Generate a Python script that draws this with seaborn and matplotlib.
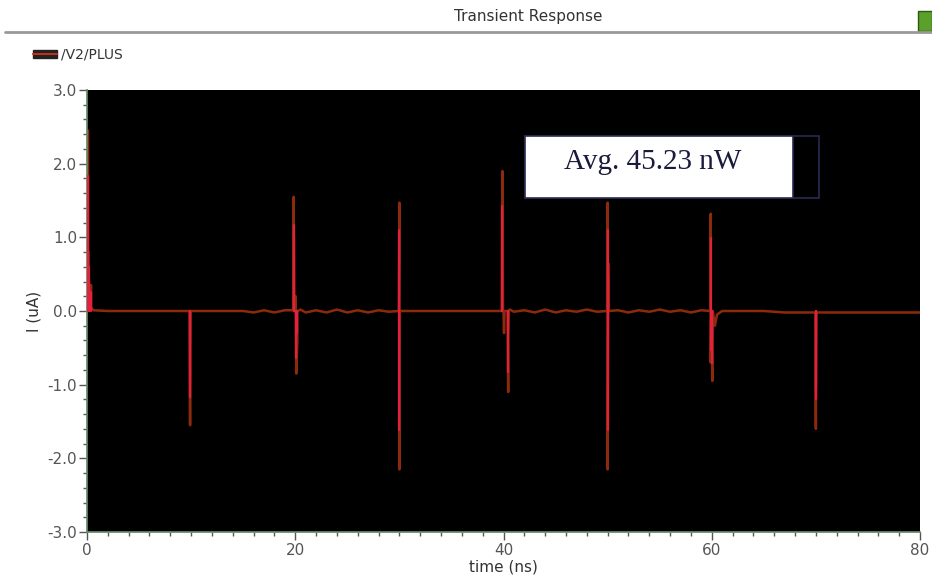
import numpy as np
import pandas as pd
import seaborn as sns
import matplotlib.pyplot as plt
from matplotlib.patches import Rectangle

# ---- data ----
# baseline trace: time (ns) and current (uA)
time_ns = [0.1, 0.1, 0.15, 0.15, 0.2, 0.2, 0.4, 0.4, 0.5, 0.6, 2, 5, 9.85, 9.9, 9.9, 9.95,
           10.0, 15, 16, 17, 18, 19, 19.8, 19.85, 19.85, 19.9, 20.0, 20.05, 20.05, 20.1, 20.2, 20.2,
           20.25, 20.5, 21, 22, 23, 24, 25, 26, 27, 28, 29, 29.95, 30.0, 30.0, 30.05, 30.05, 30.1,
           31, 35, 39.85, 39.9, 39.9, 39.95, 40.0, 40.05, 40.1, 40.4, 40.45, 40.45, 40.5, 40.6, 41,
           42, 43, 44, 45, 46, 47, 48, 49, 49.95, 50.0, 50.0, 50.05, 50.05, 50.1, 51, 52, 53, 54,
           55, 56, 57, 58, 59, 59.85, 59.9, 59.9, 59.95, 60.0, 60.05, 60.05, 60.1, 60.3, 60.5, 61,
           62, 65, 67, 69.95, 70.0, 70.0, 70.05, 70.1, 75, 80]
current_uA = [2.45, 0.8, 0.8, 0.4, 0.4, 0.35, 0.35, 0.05, 0.03, 0.01, 0.0, 0.0, 0.0, -1.55, -1.3, 0.0,
              0.0, 0.0, -0.02, 0.01, -0.02, 0.01, 0.01, 1.55, 1.35, 0.0, 0.0, 0.2, 0.0, -0.85, -0.4, 0.0,
              0.0, 0.02, -0.02, 0.01, -0.02, 0.02, -0.02, 0.01, -0.02, 0.01, -0.01, 0.0, 1.47, -2.15, 0.0, 0.01, 0.0,
              0.0, 0.0, 0.0, 1.9, 1.8, 0.0, 0.0, -0.3, 0.0, 0.0, -1.1, -0.35, 0.0, 0.02, -0.01,
              0.01, -0.02, 0.02, -0.02, 0.01, -0.01, 0.02, -0.01, 0.0, 1.47, -2.15, 0.0, 0.65, 0.0, 0.01, -0.02, 0.01, -0.01,
              0.02, -0.01, 0.01, -0.02, 0.01, 0.0, 1.32, -0.7, 0.0, 0.0, -0.95, -0.5, 0.0, -0.2, -0.05, 0.0,
              0.0, 0.0, -0.02, -0.02, -1.6, -1.4, -0.02, -0.02, -0.02, -0.02]

series_name = "/V2/PLUS"
title = "Transient Response"
annotation = "Avg. 45.23 nW"
y_ticks = [-3.0, -2.0, -1.0, 0.0, 1.0, 2.0, 3.0]
x_ticks = [0, 20, 40, 60, 80]

df = pd.DataFrame({"time": time_ns, "I": current_uA})

sns.set_theme(style="white")
fig = plt.figure(figsize=(9.32, 5.83), dpi=100)
ax = fig.add_axes([87 / 932, 51 / 583, 833 / 932, 442 / 583])
ax.set_facecolor("black")

sns.lineplot(data=df, x="time", y="I", ax=ax, sort=False, estimator=None,
             color="#8e2a0c", linewidth=1.8)
# brighter red overlay on part of the spikes
spk = df[df["I"].abs() > 0.3]
for t, v in zip(spk["time"], spk["I"]):
    ax.plot([t, t], [0, v * 0.75], color="#e3203e", linewidth=1.6, zorder=3)

ax.set_xlim(0, 80)
ax.set_ylim(-3.0, 3.0)
ax.set_xticks(x_ticks)
ax.set_xticklabels([str(v) for v in x_ticks])
ax.set_yticks(y_ticks)
ax.set_yticklabels([f"{v:.1f}" for v in y_ticks])
ax.set_xticks(np.arange(0, 81, 2), minor=True)
ax.set_yticks(np.arange(-3.0, 3.01, 0.2), minor=True)
ax.tick_params(axis="both", which="major", length=6, width=1, color="#555555",
               labelsize=11, labelcolor="#555555", direction="out", bottom=True, left=True)
ax.tick_params(axis="both", which="minor", length=3, width=1, color="#555555",
               direction="out", bottom=True, left=True)
ax.tick_params(axis="y", pad=1)
ax.tick_params(axis="x", pad=2)
for s in ["top", "right"]:
    ax.spines[s].set_visible(False)
ax.spines["left"].set_color("#6a8a6a")
ax.spines["bottom"].set_color("#6a8a6a")
ax.set_xlabel("time (ns)", fontsize=11, color="#333333", labelpad=1)
ax.set_ylabel("I (uA)", fontsize=11, color="#333333", labelpad=4)
if ax.get_legend():
    ax.get_legend().remove()

# annotation box
ax.add_patch(Rectangle((525 / 932, (583 - 198) / 583), (819 - 525) / 932, 62 / 583,
                       transform=fig.transFigure, facecolor="black",
                       edgecolor="#2a2a50", linewidth=1.2, zorder=5, clip_on=False))
ax.add_patch(Rectangle((525 / 932, (583 - 198) / 583), (793 - 525) / 932, 62 / 583,
                       transform=fig.transFigure, facecolor="white",
                       edgecolor="#2a2a50", linewidth=1.2, zorder=6, clip_on=False))
fig.text(653 / 932, (583 - 162) / 583, annotation, fontsize=21, family="Liberation Serif",
         color="#1a1a3a", ha="center", va="center", zorder=7)

# header
fig.text(528 / 932, (583 - 16) / 583, title, fontsize=11, color="#333333",
         ha="center", va="center")
fig.add_artist(plt.Line2D([5 / 932, 1.0], [(583 - 32) / 583] * 2, transform=fig.transFigure,
                          color="#999999", linewidth=2))
fig.add_artist(Rectangle((918 / 932, (583 - 31) / 583), 14 / 932, 20 / 583,
                         transform=fig.transFigure, facecolor="#5aa02a",
                         edgecolor="#2a5a10", linewidth=1))

# legend
fig.add_artist(Rectangle((33 / 932, (583 - 58) / 583), 24 / 932, 8 / 583,
                         transform=fig.transFigure, facecolor="#222222", edgecolor="#222222"))
fig.add_artist(plt.Line2D([33 / 932, 57 / 932], [(583 - 54) / 583] * 2, transform=fig.transFigure,
                          color="#c0301a", linewidth=1.5))
fig.text(61 / 932, (583 - 54) / 583, series_name, fontsize=10, color="#333333",
         ha="left", va="center")

fig.savefig("out.png", dpi=100, facecolor="white")
